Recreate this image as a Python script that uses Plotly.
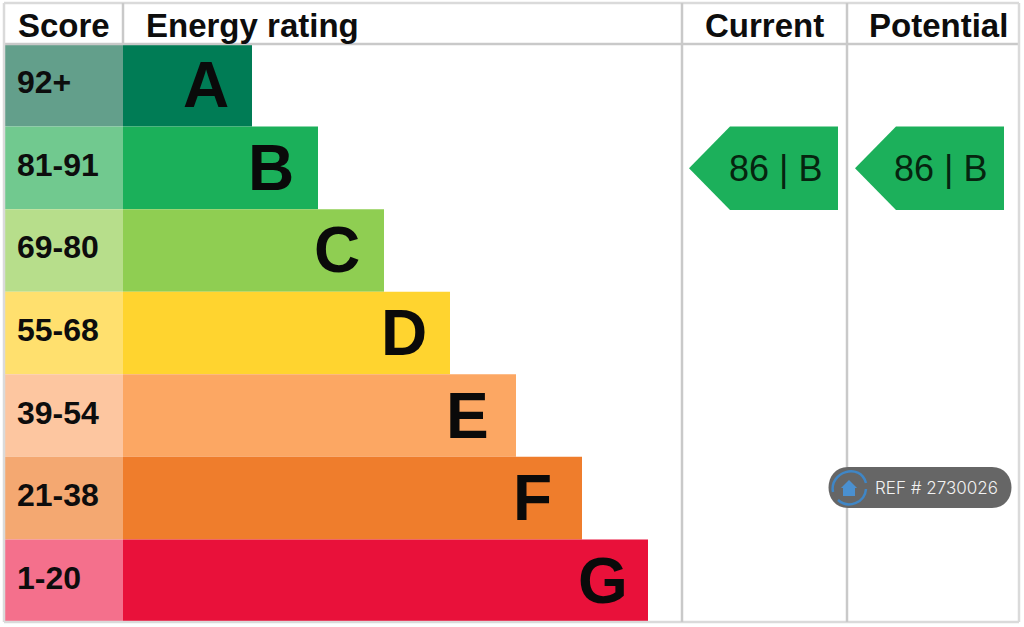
import plotly.graph_objects as go

ratings = ["A", "B", "C", "D", "E", "F", "G"]
scores = ["92+", "81-91", "69-80", "55-68", "39-54", "21-38", "1-20"]
bar_lengths = [129, 195, 261, 327, 393, 459, 525]
bar_colors = ["#007c55", "#1bb05a", "#8fce52", "#ffd42f", "#fca763", "#ef7d2c", "#e9113a"]
score_colors = ["#639f8b", "#71c98f", "#b7de8b", "#ffe06e", "#fdc6a0", "#f4a871", "#f4708c"]
headers = ["Score", "Energy rating", "Current", "Potential"]
current = (86, "B")
potential = (86, "B")
ref_label = "REF # 2730026"

W, H = 1024, 627
GRID = "#c9c9c9"
EDGE = "#dadada"
FONT = "Liberation Sans"
rows = list(range(len(ratings)))
letter_nudge = [4, 3, 3, 4, 0, -3, 7]


def py(v):
    return 1 - v / H


fig = go.Figure()
fig.add_bar(y=rows, x=[118] * len(rows), base=5, orientation="h", width=1,
            marker=dict(color=score_colors, line_width=0), showlegend=False)
fig.add_bar(y=rows, x=bar_lengths, base=123, orientation="h", width=1,
            marker=dict(color=bar_colors, line_width=0), showlegend=False)

ann = []
for r, s, L, n in zip(ratings, scores, bar_lengths, letter_nudge):
    i = ratings.index(r)
    ann.append(dict(x=15, y=i, text=f"<b>{s}</b>", xref="x", yref="y", xanchor="left", yanchor="middle",
                    yshift=3, showarrow=False, font=dict(family=FONT, size=32, color="#0d0d0d")))
    ann.append(dict(x=123 + L - 25 + n, y=i, text=f"<b>{r}</b>", xref="x", yref="y", xanchor="right", yanchor="middle",
                    yshift=0, showarrow=False, font=dict(family=FONT, size=64, color="#0a0a0a")))

for t, x in zip(headers, [16, 144, 703, 867]):
    ann.append(dict(x=x, y=py(26), text=f"<b>{t}</b>", xref="x", yref="paper", xanchor="left", yanchor="middle",
                    showarrow=False, font=dict(family=FONT, size=33, color="#0d0d0d")))

shapes = []
for x0, x1, y0, y1, c in [(4, 1019, 3, 3, EDGE), (4, 1019, 44, 44, GRID), (4, 1019, 622, 622, EDGE),
                          (4, 4, 3, 622, EDGE), (1019, 1019, 3, 622, EDGE), (123, 123, 3, 44, GRID),
                          (682, 682, 3, 622, GRID), (847, 847, 3, 622, GRID)]:
    shapes.append(dict(type="line", xref="x", yref="paper", x0=x0, x1=x1, y0=py(y0), y1=py(y1),
                       line=dict(color=c, width=2.5), layer="above"))

for (score, band), left, text_right in ((current, 689, 135), (potential, 855, 134)):
    i = ratings.index(band)
    top, bot = i - 0.5, i + 0.51
    mid = (top + bot) / 2
    shapes.append(dict(type="path", xref="x", yref="y", layer="above",
                       path=f"M {left} {mid} L {left + 41} {top} L {left + 149} {top} L {left + 149} {bot} L {left + 41} {bot} Z",
                       fillcolor="#1cb05b", line_width=0))
    ann.append(dict(x=left + text_right, y=i, text=f"{score} | {band}", xref="x", yref="y", xanchor="right", yanchor="middle",
                    yshift=-1, showarrow=False, font=dict(family=FONT, size=36, color="#06240f")))

# reference badge
shapes.append(dict(type="path", xref="x", yref="paper", layer="above", fillcolor="#666666", line_width=0,
                   path=f"M 848 {py(467)} L 992 {py(467)} C 1018 {py(467)} 1018 {py(508)} 992 {py(508)} "
                        f"L 848 {py(508)} C 822 {py(508)} 822 {py(467)} 848 {py(467)} Z"))
shapes.append(dict(type="path", xref="x", yref="paper", layer="above", line=dict(color="#3f86c6", width=2.5),
                   path=f"M 833 {py(492)} C 829 {py(472)} 860 {py(462)} 866 {py(483)}"))
shapes.append(dict(type="path", xref="x", yref="paper", layer="above", line=dict(color="#3f86c6", width=2.5),
                   path=f"M 866 {py(489)} C 865 {py(503)} 848 {py(509)} 838 {py(500)}"))
shapes.append(dict(type="path", xref="x", yref="paper", layer="above", fillcolor="#4a90d0", line_width=0,
                   path=f"M 849 {py(480)} L 857 {py(488)} L 855 {py(488)} L 855 {py(496)} L 843 {py(496)} L 843 {py(488)} L 841 {py(488)} Z"))
ann.append(dict(x=873, y=py(487.5), text=ref_label, xref="x", yref="paper", xanchor="left", yanchor="middle",
                showarrow=False, font=dict(family="Inter", size=17, color="#f2f2f2", weight=300)))

fig.update_layout(
    width=W, height=H, margin=dict(l=0, r=0, t=0, b=0), autosize=False,
    paper_bgcolor="white", plot_bgcolor="white", barmode="overlay", showlegend=False,
    xaxis=dict(range=[0, W], visible=False, fixedrange=True),
    yaxis=dict(range=[6.5 + 5 / 82.57, -0.5 - 44 / 82.57], visible=False, fixedrange=True),
    annotations=ann, shapes=shapes,
)
fig.write_html("out.html", config={"displayModeBar": False},
               post_script="document.body.style.margin='0';document.body.style.overflow='hidden';")
